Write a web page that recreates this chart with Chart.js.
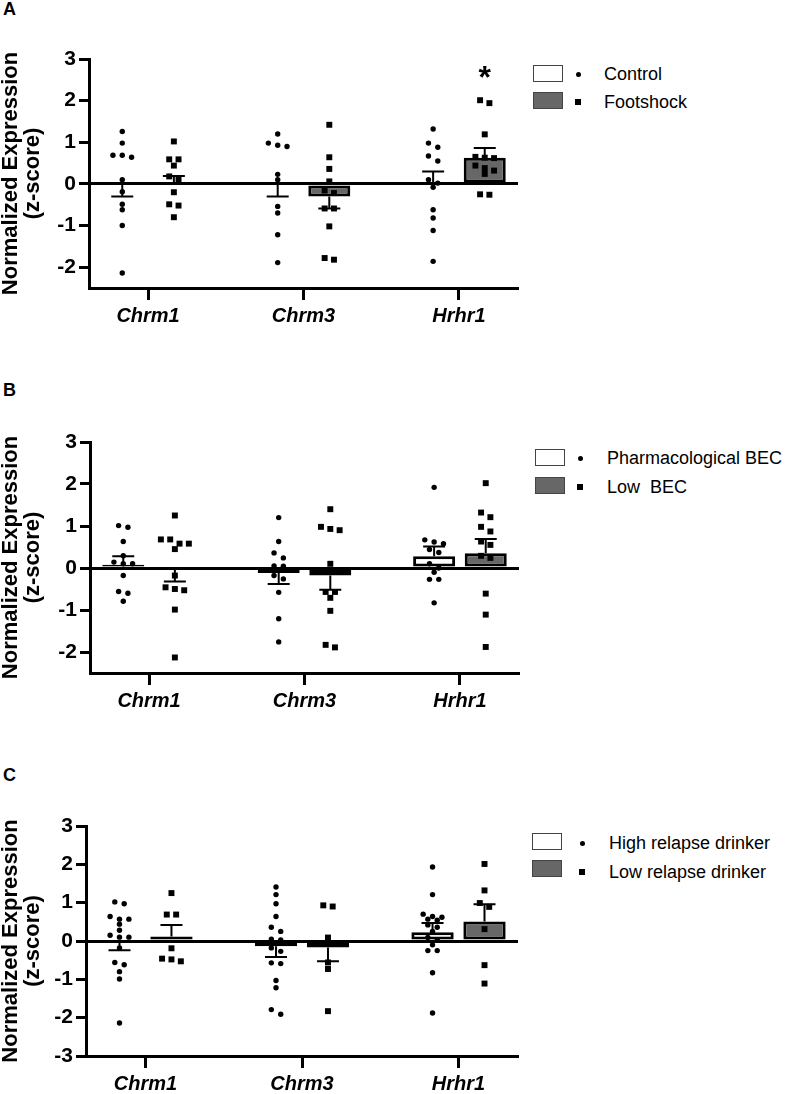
<!DOCTYPE html>
<html>
<head>
<meta charset="utf-8">
<title>Normalized Expression (z-score)</title>
<script src="https://cdn.jsdelivr.net/npm/chart.js@4.4.0/dist/chart.umd.min.js"></script>
<style>
  body { margin: 0; background: #fff; width: 787px; height: 1094px; overflow: hidden; position: relative;
         font-family: 'Liberation Sans', Arial, sans-serif; color: #000; }
  canvas { position: absolute; left: 0; }
  .letter { position: absolute; left: 3px; font-weight: bold; font-size: 18px; line-height: 22px; }
  .leg-box { position: absolute; width: 28px; height: 15px; border: 1.5px solid #444; }
  .leg-dot { position: absolute; width: 5px; height: 5px; border-radius: 50%; background: #000; }
  .leg-sq { position: absolute; width: 6px; height: 6px; background: #000; }
  .leg-text { position: absolute; font-size: 18px; line-height: 22px; white-space: pre; }
</style>
</head>
<body>
<div class="letter" style="top:-2px">A</div>
<div class="letter" style="top:379px">B</div>
<div class="letter" style="top:764px">C</div>
<canvas id="chartA" width="530" height="330" style="top:0px"></canvas>
<canvas id="chartB" width="530" height="335" style="top:380px"></canvas>
<canvas id="chartC" width="530" height="324" style="top:770px"></canvas>
<script>
// --- Data ---
const genes = ['Chrm1', 'Chrm3', 'Hrhr1'];
const yTicksAB = [-2, -1, 0, 1, 2, 3];
const yTicksC = [-3, -2, -1, 0, 1, 2, 3];

// Panel A
const groupsA = ['Control', 'Footshock'];
const meanA1 = [0, 0, 0];
const semA1 = [-0.3, -0.3, 0.3];
const meanA2 = [0.02, -0.3, 0.63];
const semA2 = [0.17, -0.29, 0.23];
const starsA = ['', '', '*'];
const ptsA1 = [
    [1.26, 0.98, 0.69, 0.69, 0.64, 0.10, -0.19, -0.49, -0.62, -1.0, -2.14],
    [1.20, 0.98, 0.93, 0.90, 0.23, 0.10, -0.54, -0.70, -1.22, -1.89],
    [1.32, 0.98, 0.88, 0.67, 0.55, 0.10, 0.02, -0.08, -0.62, -0.82, -1.12, -1.86]
];
const ptsA2 = [
    [1.02, 0.59, 0.59, 0.44, 0.18, 0.11, -0.20, -0.49, -0.52, -0.80],
    [1.42, 0.64, 0.36, 0.06, -0.16, -0.22, -0.59, -0.59, -1.02, -1.78, -1.82],
    [2.01, 1.94, 1.19, 0.65, 0.63, 0.62, 0.44, 0.38, 0.32, 0.24, -0.25, -0.26]
];

// Panel B
const groupsB = ['Pharmacological BEC', 'Low  BEC'];
const meanB1 = [0.08, -0.12, 0.28];
const semB1 = [0.2, -0.26, 0.23];
const meanB2 = [-0.02, -0.18, 0.35];
const semB2 = [-0.3, -0.34, 0.34];
const ptsB1 = [
    [1.01, 0.97, 0.63, 0.29, 0.14, 0.10, 0.10, -0.18, -0.56, -0.60, -0.79],
    [1.20, 0.63, 0.36, 0.24, 0.05, 0.04, -0.18, -0.26, -0.58, -1.21, -1.76],
    [1.92, 0.67, 0.62, 0.58, 0.44, 0.37, 0.10, 0.00, -0.10, -0.27, -0.27, -0.83]
];
const ptsB2 = [
    [1.25, 0.68, 0.68, 0.58, 0.58, 0.45, -0.18, -0.46, -0.50, -0.53, -0.99, -2.13],
    [1.40, 0.98, 0.93, 0.90, 0.10, -0.57, -0.57, -0.71, -1.02, -1.83, -1.89],
    [2.02, 1.32, 1.21, 0.98, 0.87, 0.63, 0.55, 0.29, 0.24, -0.61, -1.11, -1.88]
];

// Panel C
const groupsC = ['High relapse drinker', 'Low relapse drinker'];
const meanC1 = [0, -0.14, 0.23];
const semC1 = [-0.24, -0.28, 0.24];
const meanC2 = [0.12, -0.17, 0.51];
const semC2 = [0.3, -0.36, 0.45];
const ptsC1 = [
    [1.02, 0.97, 0.64, 0.57, 0.57, 0.44, 0.28, 0.15, 0.10, 0.10, -0.18, -0.56, -0.62, -0.80, -0.99, -2.14],
    [1.41, 1.21, 0.97, 0.64, 0.36, 0.25, 0.05, 0.03, -0.18, -0.27, -0.57, -0.59, -1.03, -1.22, -1.79, -1.91],
    [1.93, 1.21, 0.70, 0.64, 0.62, 0.57, 0.54, 0.42, 0.36, 0.25, 0.09, 0.03, -0.10, -0.25, -0.25, -0.83, -1.88]
];
const ptsC2 = [
    [1.25, 0.69, 0.69, -0.19, -0.46, -0.48, -0.53],
    [0.93, 0.90, 0.09, -0.56, -0.73, -1.83],
    [2.01, 1.32, 0.99, 0.89, 0.31, -0.63, -1.11]
];

// --- Style ---
const FONT = "'Liberation Sans', Arial, sans-serif";
const barColors = ['#ffffff', '#676767'];
const CAT_PCT = 0.664;
const BAR_PCT = 0.814;
Chart.defaults.font.family = FONT;
Chart.defaults.color = '#000';

// spread points with close values side by side, like a column scatter
function swarm(values) {
    const sorted = values.slice().sort((a, b) => b - a);
    const out = [];
    let i = 0;
    while (i < sorted.length) {
        let j = i;
        while (j + 1 < sorted.length && sorted[i] - sorted[j + 1] < 0.13) j++;
        const n = j - i + 1;
        for (let k = 0; k < n; k++) out.push({ y: sorted[i + k], dx: (k - (n - 1) / 2) * 0.06 });
        i = j + 1;
    }
    return out;
}

// error bars (one direction, away from the bar) and significance stars
const errorBars = {
    id: 'errorBars',
    afterDatasetsDraw(chart) {
        const { ctx, scales: { y }, chartArea } = chart;
        chart.data.datasets.forEach((ds, i) => {
            if (!ds.errs) return;
            chart.getDatasetMeta(i).data.forEach((bar, j) => {
                const m = ds.data[j].y;
                const y0 = y.getPixelForValue(m);
                const y1 = y.getPixelForValue(m + ds.errs[j]);
                ctx.save();
                ctx.strokeStyle = '#000';
                ctx.lineWidth = 2;
                ctx.beginPath();
                ctx.moveTo(bar.x, y0);
                ctx.lineTo(bar.x, y1);
                ctx.moveTo(bar.x - 11, y1);
                ctx.lineTo(bar.x + 11, y1);
                ctx.stroke();
                if (ds.stars && ds.stars[j]) {
                    ctx.fillStyle = '#000';
                    ctx.font = 'bold 32px ' + FONT;
                    ctx.textAlign = 'center';
                    ctx.textBaseline = 'alphabetic';
                    ctx.fillText(ds.stars[j], bar.x, chartArea.top + 10 + 0.59 * 32);
                }
                ctx.restore();
            });
        });
    }
};

function addLegend(names, lg) {
    names.forEach((name, g) => {
        const box = document.createElement('div');
        box.className = 'leg-box';
        box.style.left = lg.boxLeft + 'px';
        box.style.top = lg.boxTops[g] + 'px';
        box.style.background = barColors[g];
        document.body.appendChild(box);

        const mk = document.createElement('div');
        mk.className = g === 0 ? 'leg-dot' : 'leg-sq';
        const half = g === 0 ? 2.5 : 3;
        mk.style.left = (lg.markerX - half) + 'px';
        mk.style.top = (lg.rows[g] - half) + 'px';
        document.body.appendChild(mk);

        const txt = document.createElement('div');
        txt.className = 'leg-text';
        txt.style.left = lg.textLeft + 'px';
        txt.style.top = (lg.rows[g] - 11) + 'px';
        txt.textContent = name;
        document.body.appendChild(txt);
    });
}

function buildChart(p) {
    const datasets = [];
    p.groups.forEach((name, g) => {
        datasets.push({
            type: 'bar',
            label: name,
            order: 2,
            data: genes.map((_, i) => ({ x: i, y: p.means[g][i] })),
            errs: p.errs[g],
            stars: g === 1 ? p.stars : null,
            backgroundColor: barColors[g],
            borderColor: '#000',
            borderWidth: 3,
            borderSkipped: false,
            categoryPercentage: CAT_PCT,
            barPercentage: BAR_PCT
        });
    });
    p.groups.forEach((name, g) => {
        const off = (g === 0 ? -1 : 1) * CAT_PCT / 4;
        const data = [];
        p.points[g].forEach((vals, i) => {
            swarm(vals).forEach(pt => data.push({ x: i + off + pt.dx, y: pt.y }));
        });
        datasets.push({
            type: 'scatter',
            label: name,
            order: 1,
            data: data,
            pointStyle: g === 0 ? 'circle' : 'rect',
            pointRadius: g === 0 ? 2.7 : 4.2,
            backgroundColor: '#000',
            borderWidth: 0
        });
    });

    new Chart(document.getElementById(p.id), {
        type: 'bar',
        data: { datasets },
        options: {
            responsive: false,
            animation: false,
            events: [],
            layout: { padding: { top: p.chartTop - p.top, right: 530 - p.right, left: 0, bottom: 0 } },
            plugins: { legend: { display: false }, tooltip: { enabled: false } },
            scales: {
                x: {
                    type: 'linear',
                    min: -0.38,
                    max: 2.38,
                    offset: false,
                    afterBuildTicks: s => { s.ticks = genes.map((_, i) => ({ value: i })); },
                    afterFit: s => { s.height = p.top + p.height - p.chartBottom; },
                    ticks: {
                        callback: v => genes[v],
                        autoSkip: false,
                        maxRotation: 0,
                        padding: 4,
                        color: '#000',
                        font: { size: 20, weight: 'bold', style: 'italic' }
                    },
                    grid: { offset: false, drawOnChartArea: false, drawTicks: true, tickLength: 12, tickWidth: 3, tickColor: '#000' },
                    border: { display: true, width: 3, color: '#000' }
                },
                y: {
                    min: p.yMin,
                    max: 3,
                    afterBuildTicks: s => { s.ticks = p.yTicks.map(v => ({ value: v })); },
                    afterFit: s => { s.width = p.left; },
                    ticks: { padding: 3, color: '#000', font: { size: 21, weight: 'bold' } },
                    grid: {
                        color: c => (c.tick && c.tick.value === 0 ? '#000' : 'rgba(0,0,0,0)'),
                        lineWidth: 3,
                        drawTicks: true,
                        tickLength: 10,
                        tickWidth: 3,
                        tickColor: '#000'
                    },
                    border: { display: true, width: 3, color: '#000' },
                    title: {
                        display: true,
                        text: ['Normalized Expression', '(z-score)'],
                        color: '#000',
                        padding: 0,
                        font: { size: 22, weight: 'bold', lineHeight: 1 }
                    }
                }
            }
        },
        plugins: [errorBars]
    });
}

const panels = [
    { id: 'chartA', top: 0, height: 330, left: 89, right: 518, chartTop: 59, chartBottom: 288,
      yMin: -2.5, yTicks: yTicksAB, groups: groupsA, means: [meanA1, meanA2], errs: [semA1, semA2],
      points: [ptsA1, ptsA2], stars: starsA,
      legend: { boxLeft: 533, boxTops: [65, 92], markerX: 578, textLeft: 604, rows: [74, 102] } },
    { id: 'chartB', top: 380, height: 335, left: 90, right: 519, chartTop: 442, chartBottom: 673,
      yMin: -2.5, yTicks: yTicksAB, groups: groupsB, means: [meanB1, meanB2], errs: [semB1, semB2],
      points: [ptsB1, ptsB2], stars: null,
      legend: { boxLeft: 535, boxTops: [449, 477], markerX: 580, textLeft: 607, rows: [458, 487] } },
    { id: 'chartC', top: 770, height: 324, left: 86, right: 518, chartTop: 826, chartBottom: 1056,
      yMin: -3, yTicks: yTicksC, groups: groupsC, means: [meanC1, meanC2], errs: [semC1, semC2],
      points: [ptsC1, ptsC2], stars: null,
      legend: { boxLeft: 532, boxTops: [833, 860], markerX: 582, textLeft: 609, rows: [843, 872] } }
];

panels.forEach(p => {
    buildChart(p);
    addLegend(p.groups, p.legend);
});
</script>
</body>
</html>
